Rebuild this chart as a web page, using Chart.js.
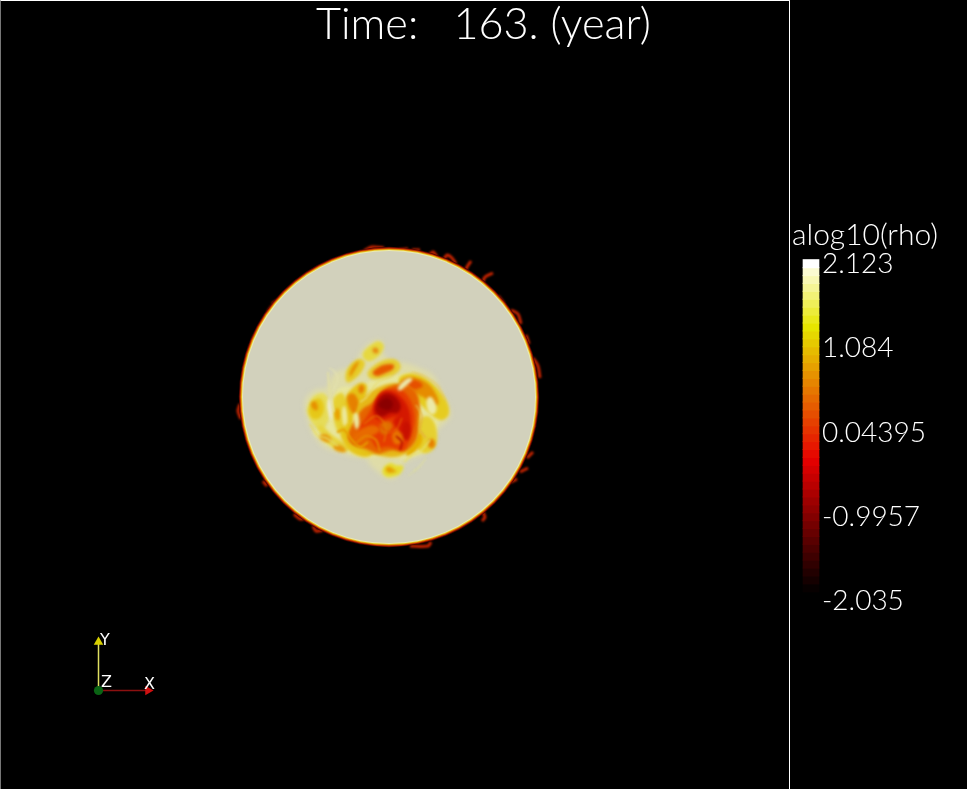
<!DOCTYPE html>
<html><head><meta charset="utf-8">
<style>html,body{margin:0;padding:0;background:#000;overflow:hidden}#w{width:967px;height:789px;position:relative}</style>
<script src="https://cdn.jsdelivr.net/npm/chart.js@4"></script>
</head><body><div id="w"><canvas id="c" width="967" height="789"></canvas></div>
<script>
// ---- text
const titleText = "Time:   163. (year)";
const barTitle = "alog10(rho)";
const tickValues = [2.123, 1.084, 0.04395, -0.9957, -2.035];
const tickLabels = ["2.123", "1.084", "0.04395", "-0.9957", "-2.035"];
// ---- colour bar (alog10(rho) band edges, low to high)
const bandEdges = [-2.035,-1.936,-1.837,-1.738,-1.639,-1.540,-1.441,-1.342,-1.243,-1.144,-1.045,-0.946,-0.847,-0.748,-0.649,-0.550,-0.451,-0.352,-0.253,-0.154,-0.055,0.044,0.143,0.242,0.341,0.440,0.539,0.638,0.737,0.836,0.935,1.034,1.133,1.232,1.331,1.430,1.529,1.628,1.727,1.826,1.925,2.024,2.123];
const bandColors = ["#070000","#150000","#220000","#300000","#3e0000","#4b0000","#590000","#670000","#740000","#820000","#900000","#9d0000","#ab0000","#b90000","#c60000","#d40000","#e20000","#e60a00","#e61800","#e62500","#e63300","#e64000","#e64e00","#e65c00","#e66900","#e67700","#e68500","#e69200","#e6a000","#e6ae00","#e6bb00","#e6c900","#e6d700","#e6e500","#e9e91b","#ecec3a","#efef58","#f2f276","#f5f595","#f8f8b3","#fbfbd1","#ffffff"];
// ---- disc (scene units): centre and layered radii, outermost first
const discCentre = [389, 397];
const discRadii  = [150.2, 149.4, 148.6, 147.8, 147, 146];
const discColors = ["#4a0600", "#b02000", "#e07000", "#e8c820", "#ecebb0", "#d2d1bc"];
// ---- density structures
const haloX = [303,310,320,327,331,338,350,358,361,372,385,381,385,392,404,420,434,441,448,452,447,437,435,431,421,412,403,400,395,384,376,369,368,352,340,325,315,308];
const haloY = [403,392,388,390,376,370,368,358,351,340,340,349,357,362,362,368,374,390,403,415,422,429,441,451,456,458,464,473,480,478,470,465,458,457,453,449,439,423];
const blobs = [
 {c:"#e8e69c",x:[333,342,357,372,390,408,423,436,447,440,437,430,416,403,390,377,362,350,336,323,310,322,330],y:[393,386,388,380,377,372,380,390,407,418,427,450,455,460,456,457,458,453,449,443,430,428,423]},
 // left lobe
 {c:"#e6dc58",x:[306,311,318,325,330,331,327,322,316,310],y:[410,398,393,393,402,414,424,432,428,420]},
 {c:"#e6c818",x:[308,313,321,325,321,314,310],y:[410,400,397,408,418,420,416]},
 {c:"#e69000",x:[310,314,318,318,313],y:[404,400,404,411,410]},
 {c:"#e6d440",x:[316,324,330,340,352,345,332,322],y:[424,426,434,440,448,452,448,438]},
 {c:"#e69a10",x:[318,326,332,330,322],y:[436,433,439,443,441]},
 {c:"#e69a10",x:[332,340,346,346,336],y:[446,444,449,453,451]},
 // upper tuft
 {c:"#e6d840",x:[361,370,379,385,381,374,366],y:[354,345,340,346,354,360,362]},
 {c:"#e68a10",x:[372,375,379,378,373],y:[349,347,349,354,353]},
 {c:"#e6cc28",x:[345,352,360,366,362,354,346],y:[372,362,358,362,372,380,384]},
 {c:"#e69000",x:[349,354,360,357,353,350],y:[373,364,360,367,373,378]},
 {c:"#e6cc30",x:[366,378,390,398,402,394,382,370],y:[372,362,358,360,368,376,379,380]},
 {c:"#e65800",x:[371,378,385,395,393,385,377],y:[373,367,364,364,370,373,377]},
 // mid-left streaks
 {c:"#e6d030",x:[332,337,343,348,346,340,334],y:[400,394,392,404,424,436,424]},
 {c:"#e8a000",x:[334,337,340,340,336],y:[412,407,410,420,421]},
 {c:"#e6c418",x:[344,352,360,368,366,358,350,346],y:[398,388,382,384,398,412,428,420]},
 {c:"#e68000",x:[346,353,358,360,354,349],y:[396,392,398,410,416,408]},
 {c:"#e67c00",x:[358,362,365,363,359],y:[387,384,388,393,394]},
 {c:"#e6c418",x:[338,350,366,378,372,356,344],y:[428,420,428,440,458,456,446]},
 // east and north-east arm
 {c:"#e6cc20",x:[396,410,424,438,448,450,440,428,416,404],y:[378,372,376,388,402,416,422,412,400,392]},
 {c:"#e68c00",x:[398,408,420,432,440,436,424,412,402],y:[382,376,378,386,402,407,397,392,392]},
 {c:"#e65000",x:[400,410,420,424,414,404],y:[384,379,381,387,390,390]},
 {c:"#ece9a8",x:[426,432,438,433,427],y:[398,396,409,416,411]},
 // south-east
 {c:"#e6d030",x:[418,428,436,438,432,422,414],y:[420,414,424,442,452,454,444]},
 {c:"#e68000",x:[428,433,436,433,428],y:[440,438,444,449,447]},
 {c:"#e6b000",x:[405,414,420,424,416,406],y:[446,440,430,440,452,458]},
 // south tuft
 {c:"#e6dc30",x:[383,391,396,405,400,394,388,382],y:[467,462,466,465,475,476,478,474]},
 {c:"#e6a000",x:[385,390,394,398,392,387],y:[468,466,470,471,473,473]},
 // main core
 {c:"#e6b818",x:[356,364,376,392,410,420,420,410,396,380,364,352],y:[408,396,388,382,386,400,434,452,458,456,452,436]},
 {c:"#e66400",x:[354,362,372,382,394,408,417,420,418,418,412,402,392,378,366,352,346],y:[422,408,404,390,384,384,392,404,420,436,447,453,449,455,448,446,436]},
 {c:"#e63c00",x:[366,374,380,392,404,412,416,410,404,396,386,376,370,360,358],y:[418,404,392,388,390,402,420,440,452,448,446,450,436,438,428]},
 {c:"#e86a00",x:[352,362,374,382,372,362,354],y:[436,428,424,430,436,442,444]},
 {c:"#e87400",x:[392,402,408,405,396,392],y:[432,424,428,440,446,440]},
 {c:"#e07000",x:[378,386,394,390,382],y:[426,420,424,432,436]},
 {c:"#d41800",x:[372,376,384,396,408,412,404,396,392,400,396,384,376],y:[412,398,390,392,404,424,436,428,420,414,416,420,420]},
 {c:"#a40400",x:[374,378,386,396,402,398,390,384,378],y:[410,398,392,396,406,414,412,417,416]},
 {c:"#8a0000",x:[377,381,388,394,391,384],y:[406,400,397,403,410,410]},
 {c:"#c81000",x:[402,408,412,408,402],y:[424,420,430,442,438]},
 // pale gaps
 {c:"#ebe9ac",x:[397,408,414,406,399],y:[387,377,379,386,392]},
 {c:"#ecead0",x:[326,330,333,331],y:[404,396,410,424]},
 {c:"#ece9a0",x:[341,345,348,344],y:[410,404,418,430]},
 {c:"#ebe8a0",x:[352,358,360,356],y:[414,412,424,432]}
];
const filaments = [
 {c:"#e4e0a0",w:1.6,x:[328,329,331,334],y:[372,385,400,412]},
 {c:"#e4e2b0",w:1.2,x:[329,333,338,333],y:[368,370,378,392]},
 {c:"#e6a000",w:2,x:[337,344,352,360,368],y:[432,430,440,447,442]},
 {c:"#e68400",w:2,x:[355,366,376,380],y:[444,436,440,452]},
 {c:"#e6c860",w:1.3,x:[412,424,438,445],y:[372,376,386,400]},
 {c:"#e6b040",w:1.5,x:[416,422,420,426],y:[405,416,430,438]},
 {c:"#e6e070",w:1.5,x:[404,412,420,430],y:[462,455,452,440]},
 {c:"#dcdca0",w:1.2,x:[414,420,426],y:[472,466,458]},
 {c:"#dcdca0",w:1,x:[408,413,416],y:[476,472,468]},
 {c:"#e65000",w:1.5,x:[378,388,396,402],y:[424,432,430,418]},
 {c:"#e67800",w:1.2,x:[364,376,386,384],y:[424,416,426,442]},
 {c:"#b00800",w:1.5,x:[396,402,400],y:[436,442,450]},
 {c:"#e6d860",w:1.5,x:[310,318,326,338],y:[424,436,438,446]},
 {c:"#e8dc70",w:1.3,x:[360,366,378,392],y:[402,398,382,376]}
];
const flames = [
 [[364,372,384],[251,247,248]],[[398,408],[250,249]],[[412,420],[250,250]],[[428,433,437],[256,252,257]],
 [[444,447,452,456],[259,255,258,264]],[[464,467,471],[274,267,261]],[[482,485,493],[284,277,273]],
 [[498,504],[296,304]],[[511,518,521],[310,314,324]],[[526,529],[335,344]],[[533,538,540],[358,366,378]],
 [[316,323],[271,267]],[[300,306,312],[283,278,276]],[[286,291],[295,290]],[[272,281,288],[304,299,297]],
 [[268,272],[312,306]],[[253,255,259],[341,336,334]],[[251,250],[345,350]],[[241,238,240],[419,411,404]],
 [[263,267],[481,486]],[[294,300,306],[514,519,518]],[[313,316,323],[526,531,530]],
 [[410,428,431],[546,546,542]],[[481,485,482],[509,517,521]],[[510,517],[482,479]],[[520,528],[472,468]],[[527,533],[458,452]]
];
// ---- orientation widget
const frameX = [0.5,789.5,789.5];
const frameY = [0.5,0.5,789];
const frameLeftX = [0.5,0.5];
const frameLeftY = [0.5,789];
const axisOrigin = [98.5, 690.5];
const axisYTip = [98.5, 642];
const axisXTip = [148, 690.5];

const zip = (xs,ys)=>xs.map((x,i)=>({x,y:ys[i]}));
const ds = [];
const line = (xs,ys,c,w,blur)=>ds.push({type:'line',data:zip(xs,ys),borderColor:c,borderWidth:w,pointRadius:0,fill:false,tension:.3,blur:blur,yAxisID:'y',xAxisID:'x'});
const blob = (xs,ys,c,blur)=>ds.push({type:'scatter',data:zip(xs,ys),showLine:false,pointRadius:0,blobColor:c,blur:blur,yAxisID:'y',xAxisID:'x'});

flames.forEach(f=>line(f[0],f[1],"#c82400",3,1));
discRadii.forEach((r,i)=>ds.push({type:'bubble',data:[{x:discCentre[0],y:discCentre[1],r}],backgroundColor:discColors[i],borderWidth:0,blur:.5,yAxisID:'y',xAxisID:'x'}));
blob(haloX,haloY,"#dfdca8",2.4);
blobs.forEach(b=>blob(b.x,b.y,b.c,1.5));
filaments.forEach(f=>line(f.x,f.y,f.c,f.w,.8));
// colour bar
ds.push({type:'bar',data:bandColors.map((_,i)=>({x:811,y:[bandEdges[i],bandEdges[i+1]+0.006]})),backgroundColor:bandColors,barThickness:16,borderWidth:0,yAxisID:'yBar',xAxisID:'x'});
// frame
ds.push({type:'line',data:zip(frameLeftX,frameLeftY),borderColor:"#777777",borderWidth:1,pointRadius:0,tension:0,yAxisID:'y',xAxisID:'x'});
ds.push({type:'line',data:zip(frameX,frameY),borderColor:"#ffffff",borderWidth:1,pointRadius:0,tension:0,yAxisID:'y',xAxisID:'x'});
// orientation axes
ds.push({type:'line',data:zip([axisOrigin[0],axisYTip[0]],[axisOrigin[1],axisYTip[1]]),borderColor:"#e0e060",borderWidth:1.5,pointRadius:[0,5.5],pointStyle:'triangle',pointBackgroundColor:"#d8d000",pointBorderWidth:0,tension:0,yAxisID:'y',xAxisID:'x'});
ds.push({type:'line',data:zip([axisOrigin[0],axisXTip[0]],[axisOrigin[1],axisXTip[1]]),borderColor:"#8c1010",borderWidth:1.5,pointRadius:[0,5.5],pointStyle:'triangle',pointRotation:90,pointBackgroundColor:"#d01010",pointBorderWidth:0,tension:0,yAxisID:'y',xAxisID:'x'});
ds.push({type:'scatter',data:[{x:axisOrigin[0],y:axisOrigin[1]}],pointRadius:4.6,pointBackgroundColor:"#0a6414",pointBorderWidth:0,yAxisID:'y',xAxisID:'x'});
ds.forEach((d,i)=>{d.order=ds.length-i;});

const painter = {
 id:'painter',
 beforeDatasetDraw(chart,args){
  const d=chart.data.datasets[args.index],ctx=chart.ctx;
  if(d.blur) ctx.filter='blur('+d.blur+'px)';
  if(d.blobColor){
   const p=args.meta.data,n=p.length;
   ctx.beginPath();
   const mx=(a,b)=>(a.x+b.x)/2,my=(a,b)=>(a.y+b.y)/2;
   ctx.moveTo(mx(p[n-1],p[0]),my(p[n-1],p[0]));
   for(let i=0;i<n;i++){const q=p[(i+1)%n];ctx.quadraticCurveTo(p[i].x,p[i].y,mx(p[i],q),my(p[i],q));}
   ctx.closePath();ctx.fillStyle=d.blobColor;ctx.fill();
  }
 },
 afterDatasetDraw(chart){chart.ctx.filter='none';},
 afterDraw(chart){
  const ctx=chart.ctx,s=chart.scales.yTick;
  ctx.save();ctx.fillStyle='#fff';ctx.textBaseline='middle';ctx.textAlign='left';
  ctx.font='300 44px Lato, Roboto, sans-serif';
  ctx.fillText(titleText,316,25,335);
  ctx.font='300 30px Lato, Roboto, sans-serif';
  ctx.fillText(barTitle,792,235,147);
  ctx.font='300 28px Lato, Roboto, sans-serif';
  tickLabels.forEach((t,i)=>ctx.fillText(t,822,s.getPixelForValue(tickValues[i])));
  ctx.font='16px "DejaVu Sans"';
  ctx.fillText('Y',100,641);ctx.fillText('X',144,685);ctx.fillText('Z',101,683);
  ctx.restore();
 }
};
new Chart(document.getElementById('c'),{
 type:'scatter',
 data:{datasets:ds},
 plugins:[painter],
 options:{
  responsive:false,animation:false,events:[],
  layout:{padding:0,autoPadding:false},
  plugins:{legend:{display:false},tooltip:{enabled:false},title:{display:false}},
  scales:{
   x:{type:'linear',min:0,max:967,display:false,offset:false},
   y:{type:'linear',min:0,max:789,reverse:true,display:false},
   yBar:{type:'linear',min:-4.502,max:5.379,display:false},
   yTick:{type:'linear',min:-4.355,max:5.380,display:false}
  }
 }
});
</script></body></html>
